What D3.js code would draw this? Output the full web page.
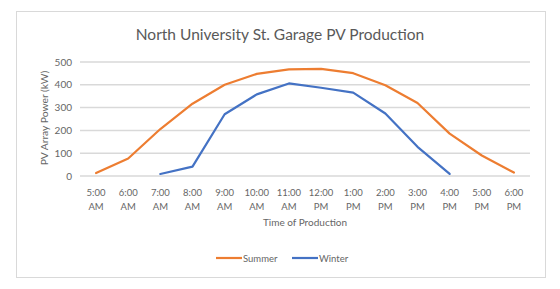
<!DOCTYPE html>
<html><head><meta charset="utf-8">
<script src="https://cdn.jsdelivr.net/npm/d3@7"></script>
<style>body{margin:0;background:#fff;} text{font-family:Lato,"Open Sans",sans-serif;}</style>
</head><body><svg id="c" width="560" height="289"></svg>
<script>
const categories = ["5:00 AM","6:00 AM","7:00 AM","8:00 AM","9:00 AM","10:00 AM","11:00 AM","12:00 PM","1:00 PM","2:00 PM","3:00 PM","4:00 PM","5:00 PM","6:00 PM"];
const summer = [13,77,206,317,400,448,468,470,451,398,320,186,90,15];
const winter = [null,null,9,41,271,358,406,387,366,274,128,9,null,null];
const yTicks = [0,100,200,300,400,500];
const seriesNames = ["Summer","Winter"];
const colors = ["#ED7D31","#4472C4"];

const svg = d3.select("#c");
svg.append("rect").attr("x",16.5).attr("y",11.5).attr("width",529).attr("height",266)
  .attr("fill","#fff").attr("stroke","#d9d9d9");

const x = d3.scaleBand().domain(categories).range([80,530]);
const y = d3.scaleLinear().domain([0,500]).range([176,62]);

svg.append("g").selectAll("line").data(yTicks).join("line")
  .attr("x1",80).attr("x2",530).attr("y1",d=>y(d)).attr("y2",d=>y(d))
  .attr("stroke","#d9d9d9").attr("stroke-width",1.5);

svg.append("g").selectAll("text").data(yTicks).join("text")
  .attr("x",72).attr("y",d=>y(d)+3.5).attr("text-anchor","end")
  .attr("font-size",10).attr("fill","#666").text(d=>d);

const xl = svg.append("g").selectAll("text").data(categories).join("text")
  .attr("x",d=>x(d)+x.bandwidth()/2).attr("y",196).attr("text-anchor","middle")
  .attr("font-size",9.5).attr("fill","#666");
xl.append("tspan").attr("x",d=>x(d)+x.bandwidth()/2).text(d=>d.split(" ")[0]);
xl.append("tspan").attr("x",d=>x(d)+x.bandwidth()/2).attr("dy",13.5).text(d=>d.split(" ")[1]);

const line = d3.line().defined(d=>d.v!=null).x(d=>x(d.c)+x.bandwidth()/2).y(d=>y(d.v));
[summer,winter].forEach((s,i)=>{
  svg.append("path").datum(categories.map((c,j)=>({c,v:s[j]})))
    .attr("d",line).attr("fill","none").attr("stroke",colors[i]).attr("stroke-width",2.2)
    .attr("stroke-linejoin","round").attr("stroke-linecap","round");
});

svg.append("text").attr("x",280).attr("y",40).attr("text-anchor","middle")
  .attr("font-size",15.5).attr("fill","#595959").text("North University St. Garage PV Production");
svg.append("text").attr("transform","translate(48,118) rotate(-90)").attr("text-anchor","middle")
  .attr("font-size",10.3).attr("fill","#666").text("PV Array Power (kW)");
svg.append("text").attr("x",305).attr("y",226).attr("text-anchor","middle")
  .attr("font-size",10).attr("fill","#666").text("Time of Production");

const lg = [{x:216},{x:292}];
seriesNames.forEach((n,i)=>{
  svg.append("line").attr("x1",lg[i].x).attr("x2",lg[i].x+26).attr("y1",258).attr("y2",258)
    .attr("stroke",colors[i]).attr("stroke-width",2.2);
  svg.append("text").attr("x",lg[i].x+27).attr("y",261.5).attr("font-size",9.5)
    .attr("fill","#666").text(n);
});
</script></body></html>
